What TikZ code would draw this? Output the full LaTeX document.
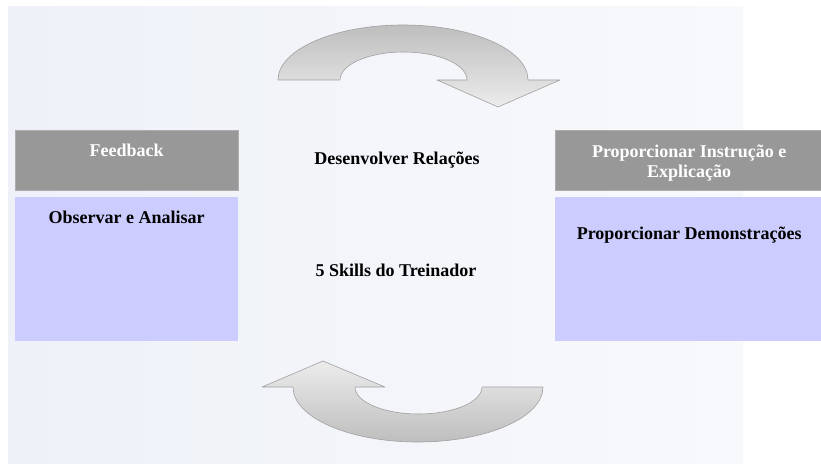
\documentclass[tikz,border=0pt]{standalone}
\usepackage{fontspec}
\setmainfont{Liberation Serif}
\usetikzlibrary{positioning}
\definecolor{fundo1}{RGB}{238,241,248}
\definecolor{fundo2}{RGB}{248,249,252}
\definecolor{cabeca}{RGB}{152,152,152}
\definecolor{corpo}{RGB}{204,204,255}
\definecolor{setaborda}{RGB}{160,160,160}
\definecolor{setaescura}{RGB}{190,190,190}
\definecolor{setaclara}{RGB}{236,236,236}
\begin{document}
\begin{tikzpicture}[
  x=1pt, y=1pt,
  hdr/.style={fill=cabeca, draw=cabeca!80, minimum width=#1, minimum height=60pt, anchor=north west, inner sep=0pt},
  bdy/.style={fill=corpo, minimum width=#1, minimum height=144pt, anchor=north west, inner sep=0pt},
  hdrtxt/.style={text=white, font=\fontsize{18}{20}\selectfont\bfseries, align=center},
  txt/.style={font=\fontsize{18}{20}\selectfont\bfseries, align=center},
  seta/.style={draw=setaborda, line width=0.6pt, line join=round}
]
\useasboundingbox (0,0) rectangle (821,464);
% fundo
\shade[left color=fundo1, right color=fundo2] (8,1) rectangle (743,457);

% caixas
\node[hdr=223pt] (fbh) at (15,334) {};
\node[bdy=223pt] (oab) at (15,267) {};
\node[hdr=266pt] (pih) at (555,334) {};
\node[bdy=266pt] (pdb) at (555,267) {};

% textos
\node[hdrtxt] (fbt) at ([yshift=-20pt]fbh.north) {Feedback};
\node[txt] (oat) at ([yshift=-20pt]oab.north) {Observar e Analisar};
\node[hdrtxt] (pit) at ([xshift=1pt,yshift=-33pt]pih.north) {Proporcionar Instrução e\\Explicação};
\node[txt] (pdt) at ([xshift=1pt,yshift=-38pt]pdb.north) {Proporcionar Demonstrações};
\node[txt] (drt) at (397,304) {Desenvolver Relações};
\node[txt] (skt) at (396,194) {5 Skills do Treinador};

% seta de cima
\shade[top color=setaescura, bottom color=setaclara] (278,384)
  arc[start angle=180, end angle=0, x radius=125, y radius=55]
  -- (560,384) -- (498,357) -- (437,384) -- (467,384)
  arc[start angle=0, end angle=180, x radius=63.5, y radius=28] -- cycle;
\draw[seta] (278,384)
  arc[start angle=180, end angle=0, x radius=125, y radius=55]
  -- (560,384) -- (498,357) -- (437,384) -- (467,384)
  arc[start angle=0, end angle=180, x radius=63.5, y radius=28] -- cycle;

% seta de baixo
\shade[top color=setaclara, bottom color=setaescura] (543,77)
  arc[start angle=0, end angle=-180, x radius=125, y radius=55]
  -- (262,77) -- (323,103) -- (385,77) -- (355,77)
  arc[start angle=180, end angle=360, x radius=63.5, y radius=27] -- cycle;
\draw[seta] (543,77)
  arc[start angle=0, end angle=-180, x radius=125, y radius=55]
  -- (262,77) -- (323,103) -- (385,77) -- (355,77)
  arc[start angle=180, end angle=360, x radius=63.5, y radius=27] -- cycle;
\end{tikzpicture}
\end{document}
